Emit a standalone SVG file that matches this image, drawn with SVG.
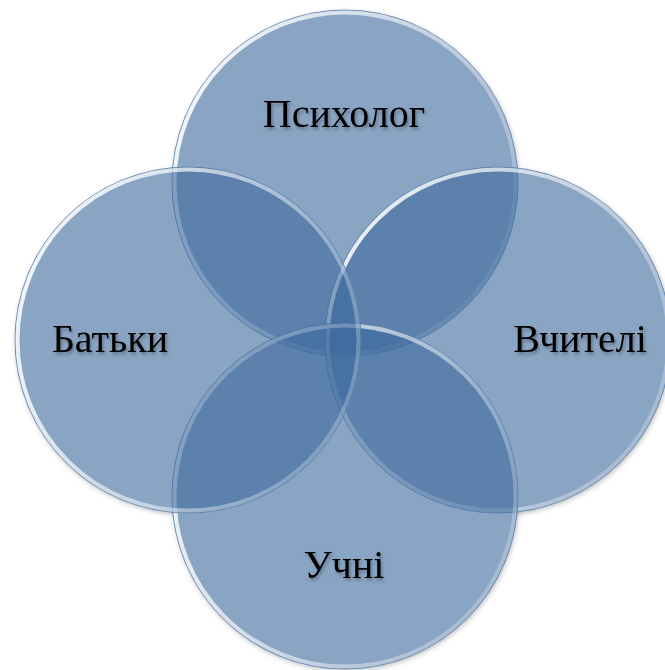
<svg xmlns="http://www.w3.org/2000/svg" width="665" height="670" viewBox="0 0 665 670">
<style>
.fill{fill:#3c699d;fill-opacity:0.6}
.edge{fill:none;stroke:#5a7fac;stroke-opacity:0.8;stroke-width:1}
.rim{fill:none;stroke:url(#rimGrad);stroke-width:4}
.shadow{fill:#000;fill-opacity:0.25;filter:url(#blur)}
.lbl{font-family:"Liberation Serif","Times New Roman",serif;font-size:40px;fill:#000;text-anchor:middle;filter:url(#tshadow)}
</style>
<defs>
<filter id="blur" x="-10%" y="-10%" width="120%" height="120%"><feGaussianBlur stdDeviation="2.5"/></filter>
<filter id="tshadow" x="-10%" y="-30%" width="120%" height="160%"><feDropShadow dx="1.5" dy="2.5" stdDeviation="1.8" flood-color="#000" flood-opacity="0.3"/></filter>
<linearGradient id="rimGrad" x1="0" y1="0.1" x2="1" y2="0.5">
<stop offset="0" stop-color="#ffffff" stop-opacity="0.95"/>
<stop offset="0.5" stop-color="#ffffff" stop-opacity="0.6"/>
<stop offset="1" stop-color="#ffffff" stop-opacity="0.25"/>
</linearGradient>
<mask id="outside">
<rect width="665" height="670" fill="#fff"/>
<circle cx="345" cy="183" r="172.5" fill="#000"/>
<circle cx="498" cy="340" r="172.5" fill="#000"/>
<circle cx="345" cy="496" r="172.5" fill="#000"/>
<circle cx="188" cy="340" r="172.5" fill="#000"/>
</mask>
</defs>
<g id="shadows" mask="url(#outside)">
<circle class="shadow" cx="346" cy="185" r="173"/>
<circle class="shadow" cx="499" cy="342" r="173"/>
<circle class="shadow" cx="346" cy="498" r="173"/>
<circle class="shadow" cx="189" cy="342" r="173"/>
</g>
<g id="node-psykholoh">
<circle class="fill" cx="345" cy="183" r="173"/>
<circle class="edge" cx="345" cy="183" r="173"/>
<circle class="rim" cx="345" cy="183" r="170.5"/>
</g>
<g id="node-vchyteli">
<circle class="fill" cx="498" cy="340" r="173"/>
<circle class="edge" cx="498" cy="340" r="173"/>
<circle class="rim" cx="498" cy="340" r="170.5"/>
</g>
<g id="node-uchni">
<circle class="fill" cx="345" cy="496" r="173"/>
<circle class="edge" cx="345" cy="496" r="173"/>
<circle class="rim" cx="345" cy="496" r="170.5"/>
</g>
<g id="node-batky">
<circle class="fill" cx="188" cy="340" r="173"/>
<circle class="edge" cx="188" cy="340" r="173"/>
<circle class="rim" cx="188" cy="340" r="170.5"/>
</g>
<g id="labels">
<text class="lbl" x="344" y="127">Психолог</text>
<text class="lbl" x="110" y="352">Батьки</text>
<text class="lbl" x="580" y="352">Вчителі</text>
<text class="lbl" x="344" y="578">Учні</text>
</g>
<g id="connectors"></g>
</svg>
